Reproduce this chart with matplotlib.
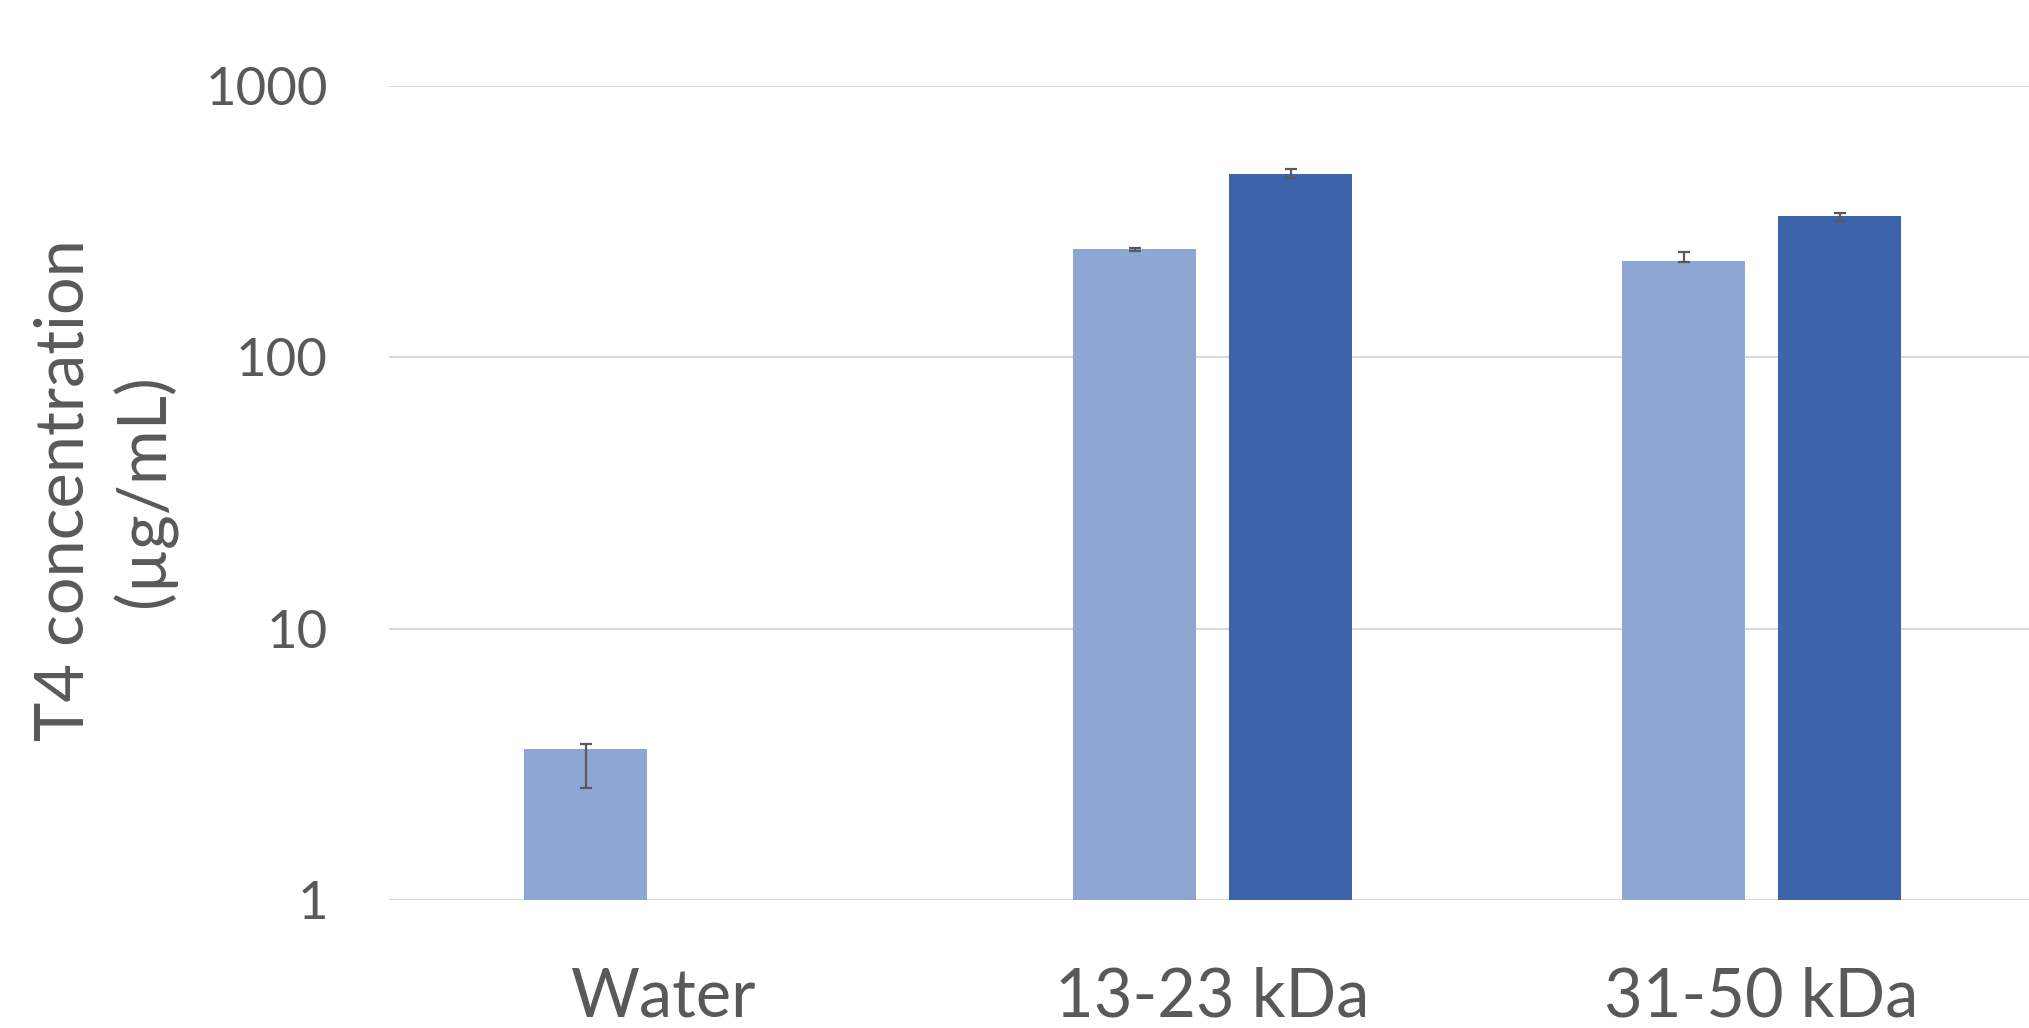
import numpy as np
import matplotlib.pyplot as plt

# T4 concentration per filtration fraction
categories = ["Water", "13-23 kDa", "31-50 kDa"]
series_a = [3.59, 250, 227]
series_b = [np.nan, 472, 330]
err_a_low = [1.0, 3, 2]
err_a_high = [0.17, 3, 18]
err_b_low = [0, 16, 12]
err_b_high = [0, 20, 11]

light = "#8FA5D3"
dark = "#3D64AB"
grey = "#595959"

plt.rcParams['font.family'] = ['Lato', 'DejaVu Sans']

fig = plt.figure(figsize=(20.29, 10.28), dpi=100)
ax = fig.add_axes([0.1917, 0.1245, 0.8083, 0.7921])

x = np.arange(len(categories))
w = 0.225
off = 0.142

ax.bar(x - off, series_a, w, color=light, zorder=2)
ax.bar(x + off, series_b, w, color=dark, zorder=2)
ax.errorbar(x - off, series_a, yerr=[err_a_low, err_a_high], fmt='none',
            ecolor=grey, elinewidth=1.6, capsize=4.3, capthick=1.6, zorder=3)
bx = x[1:] + off
ax.errorbar(bx, series_b[1:], yerr=[err_b_low[1:], err_b_high[1:]], fmt='none',
            ecolor=grey, elinewidth=1.6, capsize=4.3, capthick=1.6, zorder=3)

ax.set_yscale('log')
ax.set_ylim(1, 1000)
ax.set_xlim(-0.5, 2.487)
ax.set_yticks([1, 10, 100, 1000])
ax.set_yticklabels(["1", "10", "100", "1000"])
ax.minorticks_off()
ax.yaxis.grid(True, color="#D9D9D9", linewidth=1.5, zorder=0)
ax.set_axisbelow(True)

ax.set_xticks(x)
ax.set_xticklabels(categories)
ax.tick_params(axis='x', length=0, pad=48, labelsize=48, labelcolor=grey)
ax.tick_params(axis='y', length=0, pad=44, labelsize=38, labelcolor=grey)
for s in ax.spines.values():
    s.set_visible(False)

fig.text(0.052, 0.523, "T4 concentration\n(µg/mL)", rotation=90, ha='center',
         va='center', fontsize=48, color=grey, linespacing=1.3)

fig.savefig("out.png", dpi=100)
